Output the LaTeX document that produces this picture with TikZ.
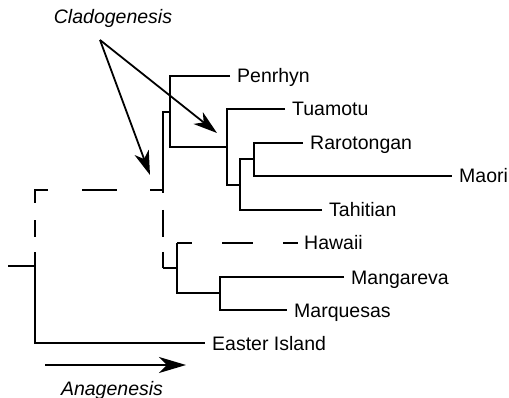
\documentclass[tikz,border=0pt]{standalone}
\usepackage{fontspec}
\setmainfont{Liberation Sans}
\usetikzlibrary{arrows.meta}
\begin{document}
\begin{tikzpicture}[x=1pt,y=-1pt,
  branch/.style={line width=1.8pt, line cap=butt, line join=miter},
  lab/.style={inner sep=0pt, anchor=west, text height=14pt, text depth=0pt, font=\fontsize{19.5pt}{22pt}\selectfont},
  ital/.style={inner sep=0pt, font=\fontsize{19.5pt}{22pt}\selectfont\itshape},
  bigarrow/.style={line width=1.8pt, -{Stealth[length=24pt,width=15pt,inset=7pt]}}]
\useasboundingbox (0,0) rectangle (509,398);
% labels
\node[lab] (pen) at (237,76) {Penrhyn};
\node[lab] (tua) at (292,109) {Tuamotu};
\node[lab] (rar) at (310,143) {Rarotongan};
\node[lab] (mao) at (459,176) {Maori};
\node[lab] (tah) at (329,210) {Tahitian};
\node[lab] (haw) at (304,243) {Hawaii};
\node[lab] (man) at (351,277) {Mangareva};
\node[lab] (mar) at (294,310) {Marquesas};
\node[lab] (eas) at (212,343) {Easter Island};
% internal coordinates
\coordinate (r0) at (8,266);
\coordinate (r) at (35,266);
\coordinate (a) at (35,190);
\coordinate (b) at (163,190);
\coordinate (bl) at (163,268);
\coordinate (e) at (35,343);
\coordinate (c) at (163,112);
\coordinate (c2) at (170,112);
\coordinate (p1) at (170,76);
\coordinate (p2) at (170,147);
\coordinate (t0) at (227,147);
\coordinate (t1) at (227,109);
\coordinate (t2) at (227,185);
\coordinate (h0) at (240,185);
\coordinate (h1) at (240,159);
\coordinate (h2) at (240,210);
\coordinate (m0) at (254,159);
\coordinate (m1) at (254,143);
\coordinate (m2) at (254,176);
\coordinate (l0) at (177,268);
\coordinate (l1) at (177,243);
\coordinate (l2) at (177,293);
\coordinate (q0) at (220,293);
\coordinate (q1) at (220,277);
\coordinate (q2) at (220,310);
% solid branches
\draw[branch] (r0) -- (r) -- (e) -- ([xshift=-7pt]eas.west);
\draw[branch] (b) -- (c) -- (c2);
\draw[branch] ([xshift=-7pt]pen.west) -- (p1) -- (p2) -- (t0);
\draw[branch] ([xshift=-7pt]tua.west) -- (t1) -- (t2) -- (h0);
\draw[branch] ([xshift=-7pt]tah.west) -- (h2) -- (h1) -- (m0);
\draw[branch] ([xshift=-7pt]rar.west) -- (m1) -- (m2) -- ([xshift=-7pt]mao.west);
\draw[branch] (bl) -- (l0);
\draw[branch] (l1) -- (l2) -- (q0);
\draw[branch] ([xshift=-7pt]man.west) -- (q1) -- (q2) -- ([xshift=-7pt]mar.west);
% dashed branches
\draw[branch, dash pattern=on 14pt off 15pt on 17pt off 17pt on 26pt off 34pt on 35pt off 33pt on 16pt off 17pt on 27pt off 15pt on 16pt off 50pt] (r) -- (a) -- (b) -- (bl);
\draw[branch, dash pattern=on 15pt off 30pt on 31pt off 30pt on 15pt off 50pt] (l1) -- ([xshift=-6pt]haw.west);
% annotations
\node[ital, anchor=base] (clado) at (113,24) {Cladogenesis};
\coordinate (cs) at (100,40);
\coordinate (ct1) at (150,175);
\coordinate (ct2) at (217,133);
\draw[bigarrow] (cs) -- (ct1);
\draw[bigarrow] (cs) -- (ct2);
\coordinate (as) at (45,365);
\coordinate (ae) at (186,365);
\draw[line width=1.8pt, -{Stealth[length=27pt,width=16pt,inset=8pt]}] (as) -- (ae);
\node[ital, anchor=base] (ana) at (112,395) {Anagenesis};
\end{tikzpicture}
\end{document}
